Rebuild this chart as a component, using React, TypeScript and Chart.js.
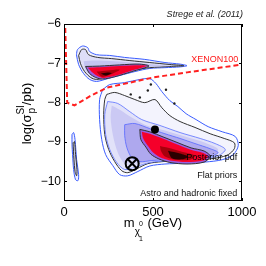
import React, { useEffect, useRef } from 'react';
import { Chart, registerables } from 'chart.js';

Chart.register(...registerables);

const FONT = '"Liberation Sans", Arial, Helvetica, sans-serif';

// axes
const xTickValues = [0, 500, 1000];
const yTickValues = [-10, -9, -8, -7, -6];

// XENON100 exclusion limit
const xenonMass = [7, 18, 59, 144, 240, 500, 692, 1000];
const xenonLogSigma = [-6.1, -8.0, -8.07, -7.84, -7.62, -7.36, -7.23, -7.03];

// posterior pdf regions: [mass (GeV), log sigma]
const upperOuter = [[70,-6.78],[76,-6.65],[104,-6.56],[133,-6.60],[144,-6.70],[183,-6.78],[257,-6.80],[341,-6.85],[454,-6.90],[567,-6.98],[652,-7.02],[691,-7.06],[652,-7.09],[567,-7.11],[482,-7.13],[398,-7.21],[313,-7.31],[245,-7.39],[183,-7.46],[144,-7.41],[110,-7.26],[82,-7.03]];
const upperSecond = [[82,-6.80],[99,-6.65],[121,-6.65],[138,-6.78],[189,-6.85],[268,-6.88],[370,-6.93],[482,-6.98],[595,-7.03],[674,-7.06],[595,-7.08],[482,-7.11],[398,-7.17],[313,-7.27],[245,-7.35],[183,-7.41],[150,-7.36],[116,-7.21],[93,-7.01]];
const upperMid = [[110,-6.95],[172,-6.93],[285,-6.95],[398,-6.99],[539,-7.04],[607,-7.07],[482,-7.09],[370,-7.16],[268,-7.28],[200,-7.36],[155,-7.31],[121,-7.16]];
const upperRim = [[121,-7.08],[200,-7.07],[313,-7.04],[426,-7.02],[477,-7.07],[381,-7.21],[285,-7.34],[217,-7.40],[178,-7.36],[144,-7.26]];
const upperRed = [[134,-7.11],[200,-7.10],[313,-7.07],[426,-7.05],[464,-7.07],[370,-7.20],[275,-7.33],[219,-7.37],[191,-7.33],[162,-7.24]];
const upperDark = [[183,-7.21],[245,-7.18],[313,-7.16],[257,-7.29],[212,-7.34]];
const upperCore = [[206,-7.26],[245,-7.23],[268,-7.25],[234,-7.31]];

const lowerOuter = [[217,-7.67],[257,-7.54],[341,-7.49],[426,-7.41],[482,-7.39],[516,-7.51],[550,-7.72],[595,-7.95],[640,-8.10],[686,-8.28],[742,-8.43],[810,-8.61],[889,-8.74],[962,-8.86],[979,-9.09],[951,-9.32],[889,-9.45],[793,-9.51],[680,-9.54],[567,-9.56],[482,-9.61],[415,-9.75],[358,-9.86],[313,-9.83],[274,-9.60],[234,-9.32],[212,-8.94],[200,-8.43],[200,-7.92]];
const lowerSecond = [[240,-7.79],[285,-7.74],[341,-7.82],[398,-7.92],[454,-8.00],[511,-7.92],[550,-8.13],[595,-8.33],[652,-8.48],[736,-8.63],[821,-8.79],[900,-8.91],[957,-9.02],[957,-9.17],[923,-9.32],[866,-9.40],[765,-9.45],[652,-9.47],[550,-9.50],[471,-9.55],[409,-9.68],[358,-9.78],[324,-9.73],[285,-9.50],[251,-9.19],[229,-8.81],[223,-8.30],[229,-7.92]];
const lowerMid = [[245,-7.97],[302,-8.02],[370,-8.23],[437,-8.43],[539,-8.58],[652,-8.76],[765,-8.91],[849,-9.04],[906,-9.19],[866,-9.35],[765,-9.42],[595,-9.47],[482,-9.52],[398,-9.64],[341,-9.70],[296,-9.52],[257,-9.19],[234,-8.81],[229,-8.30]];
const lowerBand = [[268,-8.07],[313,-8.18],[381,-8.38],[454,-8.56],[567,-8.71],[680,-8.86],[793,-9.02],[866,-9.19],[821,-9.37],[708,-9.45],[595,-9.46],[482,-9.50],[398,-9.58],[341,-9.55],[302,-9.27],[274,-8.81],[262,-8.38]];
const lowerInner = [[341,-8.56],[398,-8.53],[482,-8.66],[567,-8.79],[652,-8.91],[736,-9.04],[821,-9.17],[866,-9.27],[821,-9.37],[708,-9.45],[595,-9.45],[494,-9.47],[426,-9.50],[381,-9.40],[353,-9.14],[341,-8.84]];
const lowerRim = [[426,-8.68],[482,-8.74],[556,-8.87],[635,-9.01],[714,-9.15],[787,-9.23],[821,-9.36],[787,-9.51],[691,-9.56],[595,-9.52],[533,-9.43],[488,-9.31],[460,-9.13],[432,-8.94]];
const lowerRed = [[437,-8.74],[482,-8.79],[558,-8.92],[633,-9.06],[708,-9.19],[783,-9.28],[807,-9.37],[783,-9.47],[689,-9.51],[595,-9.47],[539,-9.39],[501,-9.27],[473,-9.11],[445,-8.91]];
const lowerDark = [[539,-9.10],[607,-9.17],[680,-9.27],[736,-9.35],[708,-9.45],[624,-9.45],[567,-9.37],[545,-9.23]];
const lowerCore = [[584,-9.22],[652,-9.29],[697,-9.37],[669,-9.44],[607,-9.41]];

const islandOuter = [[45,-8.81],[54,-8.76],[62,-8.94],[71,-9.45],[82,-9.83],[79,-9.98],[65,-9.96],[54,-9.70],[48,-9.32],[45,-9.07]];
const islandSecond = [[51,-9.02],[59,-8.99],[65,-9.32],[73,-9.70],[71,-9.86],[62,-9.75],[56,-9.45]];

// isolated samples above the lower region
const strayMass = [375, 471, 488, 573, 426, 620];
const strayLogSigma = [-7.79, -7.69, -7.54, -7.67, -7.87, -8.02];

// markers
const bestFitMass = [511];
const bestFitLogSigma = [-8.68];
const meanMass = [383];
const meanLogSigma = [-9.55];

// annotations
const noteTexts = ['XENON100', 'Posterior pdf', 'Flat priors', 'Astro and hadronic fixed'];
const noteMass = [979, 973, 973, 973];
const noteLogSigma = [-6.9, -9.4, -9.84, -10.31];
const noteColors = ['#ff1a1a', '#000000', '#111111', '#111111'];
const titleText = 'Strege et al. (2011)';

function poly(pts: number[][], fill: string, border: string, bw: number, order: number) {
  const closed = [...pts, pts[0]];
  return {
    type: 'line' as const,
    data: closed.map(([x, y]) => ({ x, y })),
    backgroundColor: fill,
    borderColor: border,
    borderWidth: bw,
    fill: 'shape',
    pointRadius: 0,
    tension: 0.3,
    order,
  };
}

const NONE = 'rgba(0,0,0,0)';

const decorations = {
  id: 'decorations',
  afterDraw(chart: any) {
    const { ctx, chartArea: a, scales } = chart;
    const xs = scales.x;
    const ys = scales.y;
    ctx.save();
    ctx.strokeStyle = '#000';
    ctx.lineWidth = 1;
    ctx.strokeRect(a.left + 0.5, a.top + 0.5, a.right - a.left - 1, a.bottom - a.top - 1);
    const tl = 3;
    ctx.beginPath();
    for (const v of yTickValues) {
      const p = Math.round(ys.getPixelForValue(v)) + 0.5;
      ctx.moveTo(a.left, p); ctx.lineTo(a.left + tl, p);
      ctx.moveTo(a.right, p); ctx.lineTo(a.right - tl, p);
    }
    for (const v of xTickValues) {
      const p = Math.round(xs.getPixelForValue(v)) + 0.5;
      ctx.moveTo(p, a.bottom); ctx.lineTo(p, a.bottom - tl);
      ctx.moveTo(p, a.top); ctx.lineTo(p, a.top + tl);
    }
    ctx.stroke();

    // annotations
    ctx.textAlign = 'right';
    ctx.textBaseline = 'middle';
    ctx.font = `9px ${FONT}`;
    noteTexts.forEach((t, i) => {
      ctx.fillStyle = noteColors[i];
      ctx.fillText(t, xs.getPixelForValue(noteMass[i]), ys.getPixelForValue(noteLogSigma[i]));
    });
    ctx.fillStyle = '#222';
    ctx.font = `italic 9px ${FONT}`;
    ctx.fillText(titleText, a.right + 1, a.top - 9.5);

    // x title: m_{chi_1^0} (GeV)
    ctx.fillStyle = '#000';
    ctx.textAlign = 'left';
    ctx.textBaseline = 'alphabetic';
    const cx = (a.left + a.right) / 2;
    const B = a.bottom + 26;
    ctx.font = `13px ${FONT}`;
    const wm = ctx.measureText('m').width;
    const wg = ctx.measureText(' (GeV)').width;
    ctx.font = `10px ${FONT}`;
    const wc = ctx.measureText('χ').width;
    ctx.font = `7px ${FONT}`;
    const ws = Math.max(ctx.measureText('0').width, ctx.measureText('1').width);
    const total = wm + wc + ws + wg;
    let sx = cx - total / 2;
    ctx.font = `13px ${FONT}`;
    ctx.fillText('m', sx, B);
    sx += wm;
    ctx.font = `10px ${FONT}`;
    ctx.fillText('χ', sx, B + 8);
    sx += wc;
    ctx.font = `7px ${FONT}`;
    ctx.fillText('0', sx - 1, B - 1);
    ctx.fillText('1', sx - 1, B + 14);
    sx += ws;
    ctx.font = `13px ${FONT}`;
    ctx.fillText(' (GeV)', sx, B);

    // y title: log(sigma_p^SI/pb)
    const cy = (a.top + a.bottom) / 2 + 1;
    ctx.translate(31, cy);
    ctx.rotate(-Math.PI / 2);
    ctx.font = `13px ${FONT}`;
    const w1 = ctx.measureText('log(σ').width;
    const w3 = ctx.measureText('/pb)').width;
    ctx.font = `10px ${FONT}`;
    const w2 = Math.max(ctx.measureText('SI').width, ctx.measureText('p').width);
    let tx = -(w1 + w2 + w3) / 2;
    ctx.font = `13px ${FONT}`;
    ctx.fillText('log(σ', tx, 0);
    tx += w1;
    ctx.font = `10px ${FONT}`;
    ctx.fillText('SI', tx, -7);
    ctx.fillText('p', tx + 1, 4);
    tx += w2;
    ctx.font = `13px ${FONT}`;
    ctx.fillText('/pb)', tx, 0);
    ctx.restore();
  },
};

export default function App() {
  const ref = useRef<HTMLCanvasElement>(null);
  useEffect(() => {
    if (!ref.current) return;
    const datasets: any[] = [
      // island
      poly(islandOuter, '#f0f0fc', '#3a5cff', 1, 100),
      poly(islandSecond, '#d8d8f6', '#333333', 1, 99),
      // upper branch
      poly(upperOuter, '#f0f0fc', '#3a5cff', 1, 100),
      poly(upperSecond, '#dedef8', '#333333', 1, 99),
      poly(upperMid, '#c4c4f1', NONE, 0, 98),
      poly(upperRim, '#9a5ee0', '#333333', 1, 96),
      poly(upperRed, '#f5002a', NONE, 0, 95),
      poly(upperDark, '#a8000c', NONE, 0, 94),
      poly(upperCore, '#2a0000', NONE, 0, 93),
      // lower branch
      poly(lowerOuter, '#fbfbff', '#3a5cff', 1, 100),
      poly(lowerSecond, '#f3f3fd', '#333333', 1, 99),
      poly(lowerMid, '#e2e2f9', '#5a70ff', 0.8, 98),
      poly(lowerBand, '#cbc9f4', NONE, 0, 97.5),
      poly(lowerInner, '#aea8ee', '#5566ff', 0.8, 97),
      poly(lowerRim, '#9a5ee0', '#333333', 1, 96),
      poly(lowerRed, '#f5002a', NONE, 0, 95),
      poly(lowerDark, '#a8000c', NONE, 0, 94),
      poly(lowerCore, '#2a0000', NONE, 0, 93),
      {
        type: 'line',
        data: strayMass.map((x, i) => ({ x, y: strayLogSigma[i] })),
        showLine: false,
        pointRadius: 1.2,
        pointBackgroundColor: '#222',
        pointBorderWidth: 0,
        order: 3,
      },
      {
        type: 'line',
        data: xenonMass.map((x, i) => ({ x, y: xenonLogSigma[i] })),
        borderColor: '#ff2020',
        borderWidth: 2,
        borderDash: [5, 3],
        pointRadius: 0,
        fill: false,
        tension: 0,
        order: 2,
      },
      {
        type: 'line',
        data: bestFitMass.map((x, i) => ({ x, y: bestFitLogSigma[i] })),
        showLine: false,
        pointRadius: 4,
        pointStyle: 'circle',
        pointBackgroundColor: '#000',
        pointBorderColor: '#000',
        pointBorderWidth: 0,
        order: 1,
      },
      {
        type: 'line',
        data: meanMass.map((x, i) => ({ x, y: meanLogSigma[i] })),
        showLine: false,
        pointRadius: 6.5,
        pointStyle: 'circle',
        pointBackgroundColor: 'rgba(255,255,255,0.3)',
        pointBorderColor: '#000',
        pointBorderWidth: 2,
        order: 1,
      },
      {
        type: 'line',
        data: meanMass.map((x, i) => ({ x, y: meanLogSigma[i] })),
        showLine: false,
        pointRadius: 6.5,
        pointStyle: 'crossRot',
        pointBorderColor: '#000',
        pointBorderWidth: 2,
        order: 0,
      },
    ];
    const chart = new Chart(ref.current, {
      type: 'line',
      data: { datasets },
      options: {
        animation: false,
        responsive: false,
        devicePixelRatio: 1,
        layout: { padding: { left: 0, top: 24, right: 24, bottom: 0 } },
        plugins: { legend: { display: false }, tooltip: { enabled: false } },
        scales: {
          x: {
            type: 'linear',
            min: 0,
            max: 1000,
            grid: { display: false, drawTicks: false },
            border: { display: false },
            afterBuildTicks: (s: any) => { s.ticks = xTickValues.map((v) => ({ value: v })); },
            afterFit: (s: any) => { s.height = 65; },
            ticks: {
              padding: 4,
              color: '#000',
              font: { family: FONT, size: 13 },
              callback: (v: any) => String(v),
            },
          },
          y: {
            type: 'linear',
            min: -10.5,
            max: -6,
            grid: { display: false, drawTicks: false },
            border: { display: false },
            afterBuildTicks: (s: any) => { s.ticks = yTickValues.map((v) => ({ value: v })); },
            afterFit: (s: any) => { s.width = 64; },
            ticks: {
              padding: 3,
              color: '#000',
              font: { family: FONT, size: 12 },
              callback: (v: any) => (v < 0 ? '\u2212' + Math.abs(v) : String(v)),
            },
          },
        },
      },
      plugins: [decorations],
    } as any);
    return () => chart.destroy();
  }, []);
  return (
    <div style={{ position: 'fixed', left: 0, top: 0, width: 266, height: 266, background: '#fff' }}>
      <canvas ref={ref} width={266} height={266} style={{ display: 'block' }} />
    </div>
  );
}
